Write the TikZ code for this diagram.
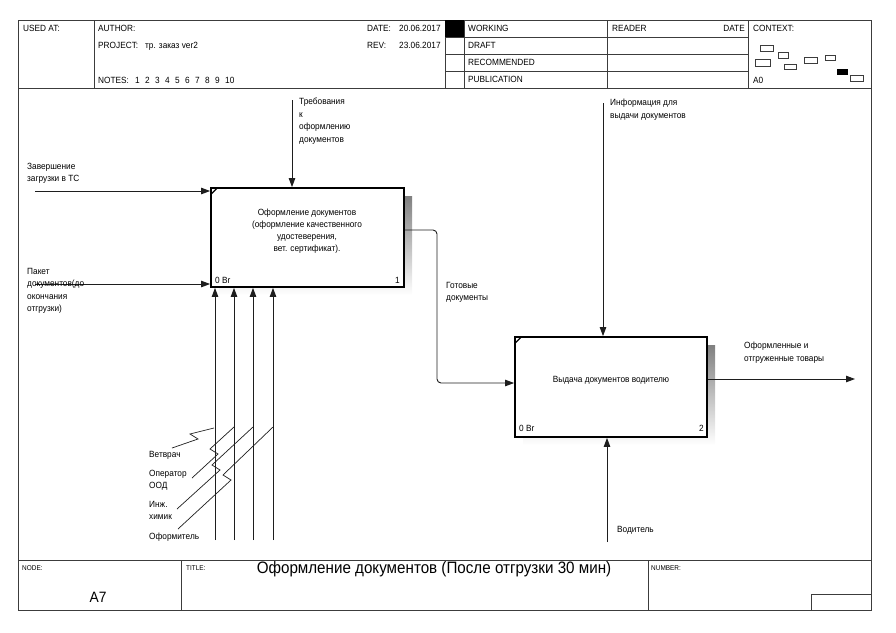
\documentclass[tikz,border=0pt]{standalone}
\usepackage{fontspec}
\setmainfont{Liberation Sans}[FakeStretch=0.92]
\usetikzlibrary{arrows.meta,calc}
\definecolor{frame}{HTML}{3C3C3C}
\definecolor{ink}{HTML}{1E1E1E}
\definecolor{shade}{HTML}{C0BCB5}
\begin{document}
\begin{tikzpicture}[x=1pt,y=-1pt,
  rule/.style={draw=frame,line width=0.9pt},
  arr/.style={draw=ink,line width=0.9pt,-{Triangle[length=9pt,width=6.5pt]}},
  squig/.style={draw=ink,line width=0.7pt},
  fnbox/.style={draw=black,line width=1.8pt,fill=white,rectangle,inner sep=0pt},
  lbl/.style={inner sep=0pt,anchor=north west,align=left,font=\fontsize{9}{12.5}\selectfont},
  hd/.style={inner sep=0pt,anchor=base west,font=\fontsize{9}{10}\selectfont},
  tag/.style={inner sep=0pt,anchor=base west,font=\fontsize{7}{8}\selectfont},
  ctx/.style={draw=frame,line width=0.7pt},
]
\useasboundingbox (0,0) rectangle (896,632);

% ---------- frame ----------
\draw[rule] (18,20) rectangle (871,610);
\draw[rule] (18,88) -- (871,88);
\foreach \x in {94,445,464,607,748} \draw[rule] (\x,20) -- (\x,88);
\foreach \y in {37,54,71} \draw[rule] (445,\y) -- (748,\y);
\fill[black] (445,20) rectangle (464,37);
\draw[rule] (18,560) -- (871,560);
\draw[rule] (181,560) -- (181,610);
\draw[rule] (648,560) -- (648,610);
\draw[rule] (811,610) -- (811,594) -- (871,594);

% ---------- header texts ----------
\node[hd] (usedat) at (23,31) {USED AT:};
\node[hd] (author) at (98,31) {AUTHOR:};
\node[hd] (project) at (98,48) {PROJECT:};
\node[hd] (projname) at (145,48) {тр. заказ ver2};
\node[hd] (notes) at (98,83) {NOTES:};
\foreach \n in {1,...,10} \node[hd] (note\n) at ({135+10*(\n-1)},83) {\n};
\node[hd] (date) at (367,31) {DATE:};
\node[hd] (dateval) at (399,31) {20.06.2017};
\node[hd] (rev) at (367,48) {REV:};
\node[hd] (revval) at (399,48) {23.06.2017};
\node[hd] (working) at (468,31) {WORKING};
\node[hd] (draft) at (468,48) {DRAFT};
\node[hd] (recommended) at (468,65) {RECOMMENDED};
\node[hd] (publication) at (468,82) {PUBLICATION};
\node[hd] (reader) at (612,31) {READER};
\node[hd,anchor=base east] (rdate) at (745,31) {DATE};
\node[hd] (context) at (753,31) {CONTEXT:};
\node[hd] (azero) at (753,83) {A0};

% context miniature
\draw[ctx] (760,45) rectangle (773,51);
\draw[ctx] (778,52) rectangle (788,58);
\draw[ctx] (755,59) rectangle (770,66);
\draw[ctx] (784,64) rectangle (796,69);
\draw[ctx] (804,57) rectangle (817,63);
\draw[ctx] (825,55) rectangle (835,60);
\fill[black] (837,69) rectangle (848,75);
\draw[ctx] (850,75) rectangle (863,81);

% ---------- footer ----------
\node[tag] (nodelbl) at (22,570) {NODE:};
\node[tag] (titlelbl) at (186,570) {TITLE:};
\node[tag] (numlbl) at (651,570) {NUMBER:};
\node[inner sep=0pt,font=\fontsize{16.5}{18}\selectfont] (title) at (434,569)
  {Оформление документов (После отгрузки 30 мин)};
\node[inner sep=0pt,font=\fontsize{15}{16}\selectfont] (nodeid) at (98,597) {A7};

% ---------- activity boxes ----------
\fill[shade] (219,196) rectangle (412,295);
\node[fnbox,minimum width=193pt,minimum height=99pt] (b1) at (307.5,237.5) {};
\draw[line width=1.2pt] ($(b1.north west)+(1,7)$) -- ($(b1.north west)+(7,1)$);
\node[inner sep=0pt,align=center,font=\fontsize{9}{11.8}\selectfont] (b1t) at (307,231)
  {Оформление документов\\(оформление качественного\\удостеверения,\\вет. сертификат).};
\node[hd] (b1code) at (215,283) {0 Br};
\node[hd,anchor=base east] (b1num) at (400,283) {1};

\fill[shade] (523,345) rectangle (715,445);
\node[fnbox,minimum width=192pt,minimum height=100pt] (b2) at (611,387) {};
\draw[line width=1.2pt] ($(b2.north west)+(1,7)$) -- ($(b2.north west)+(7,1)$);
\node[inner sep=0pt,font=\fontsize{9}{11.8}\selectfont] (b2t) at (611,380) {Выдача документов водителю};
\node[hd] (b2code) at (519,431) {0 Br};
\node[hd,anchor=base east] (b2num) at (704,431) {2};

% ---------- arrows ----------
\coordinate (c1) at (292,100);
\draw[arr] (c1) -- (c1 |- b1.north);
\coordinate (i1) at (35,191);
\draw[arr] (i1) -- (i1 -| b1.west);
\coordinate (i2) at (35,284);
\draw[arr] (i2) -- (i2 -| b1.west);
\coordinate (o1) at (437,230);
\coordinate (o2) at (437,383);
\draw[arr,rounded corners=4pt] (o1 -| b1.east) -- (o1) -- (o2) -- (o2 -| b2.west);
\coordinate (c2) at (603,103);
\draw[arr] (c2) -- (c2 |- b2.north);
\coordinate (e2) at (855,379);
\draw[arr] (e2 -| b2.east) -- (e2);
\coordinate (m5) at (607,542);
\draw[arr] (m5) -- (m5 |- b2.south);
\foreach \x [count=\i] in {215,234,253,273} {
  \coordinate (m\i) at (\x,540);
  \draw[arr] (m\i) -- (m\i |- b1.south);
}

% ---------- squiggles to mechanisms ----------
\coordinate (s1a) at (172,448); \coordinate (s1b) at (214,428);
\coordinate (s2a) at (192,478); \coordinate (s2b) at (234,427);
\coordinate (s3a) at (177,509); \coordinate (s3b) at (253,427);
\coordinate (s4a) at (178,529); \coordinate (s4b) at (273,427);
\draw[squig] (s1a) -- (198,439) -- (190,434) -- (s1b);
\draw[squig] (s2a) -- (218,454) -- (210,449) -- (s2b);
\draw[squig] (s3a) -- (220,470) -- (212,465) -- (s3b);
\draw[squig] (s4a) -- (231,480) -- (223,475) -- (s4b);

% ---------- arrow labels ----------
\node[lbl] (l1) at (299,98) {Требования\\к\\оформлению\\документов};
\node[lbl] (l2) at (27,163) {Завершение\\загрузки в ТС};
\node[lbl] (l3) at (27,268) {Пакет\\документов(до\\окончания\\отгрузки)};
\node[lbl] (l4) at (446,282) {Готовые\\документы};
\node[lbl] (l5) at (610,99) {Информация для\\выдачи документов};
\node[lbl] (l6) at (744,342) {Оформленные и\\отгруженные товары};
\node[lbl] (l7) at (617,526) {Водитель};
\node[lbl] (l8) at (149,451) {Ветврач};
\node[lbl] (l9) at (149,470) {Оператор\\ООД};
\node[lbl] (l10) at (149,501) {Инж.\\химик};
\node[lbl] (l11) at (149,533) {Оформитель};
\end{tikzpicture}
\end{document}
